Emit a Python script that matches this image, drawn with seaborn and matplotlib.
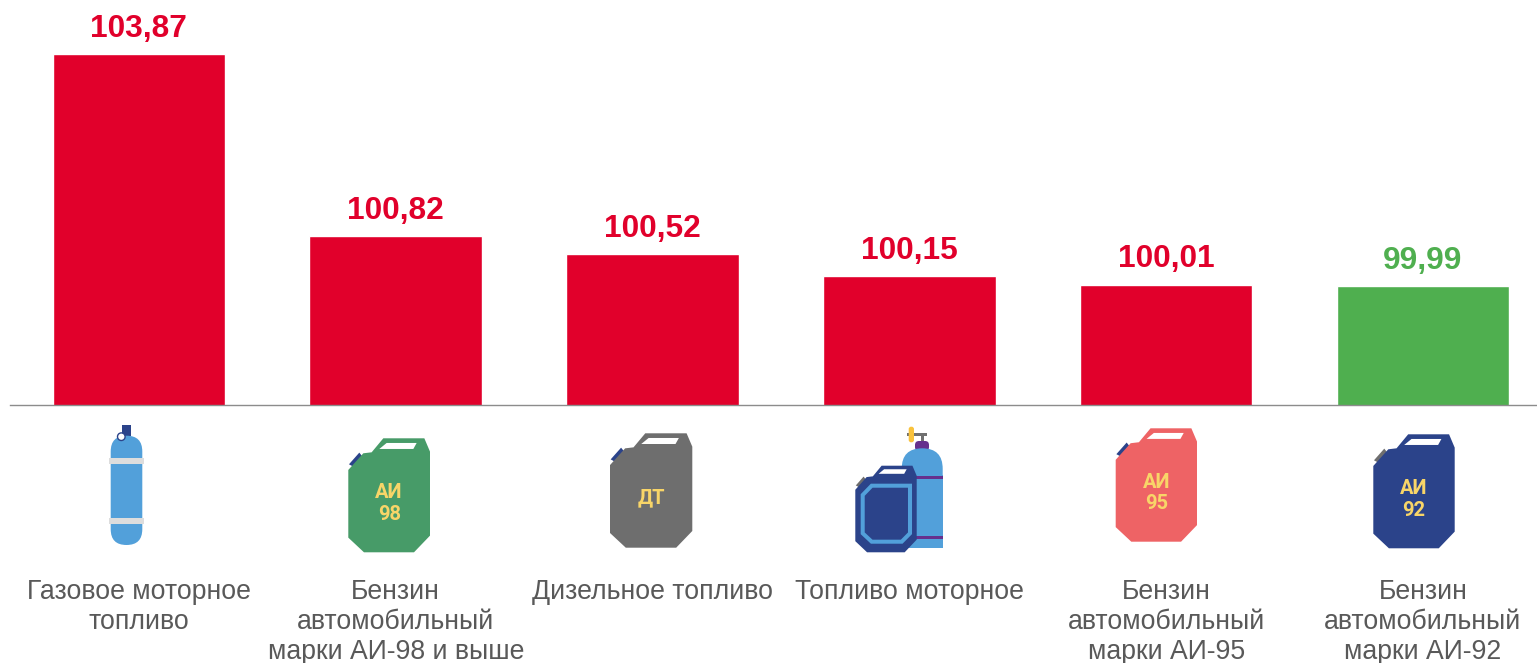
import matplotlib
matplotlib.use("Agg")
import matplotlib.pyplot as plt
from matplotlib.patches import Circle, FancyBboxPatch, Polygon, Rectangle
import pandas as pd
import seaborn as sns

categories = [
    "Газовое моторное\nтопливо",
    "Бензин\nавтомобильный\nмарки АИ-98 и выше",
    "Дизельное топливо",
    "Топливо моторное",
    "Бензин\nавтомобильный\nмарки АИ-95",
    "Бензин\nавтомобильный\nмарки АИ-92",
]
values = [103.87, 100.82, 100.52, 100.15, 100.01, 99.99]

RED = "#E1002B"
GREEN = "#4FAF4F"
bar_colors = [RED, RED, RED, RED, RED, GREEN]

NAVY = "#2B438A"
BLUE = "#52A0DA"
YELLOW = "#F8D568"
GREY = "#6E6E6E"

# canister outline, measured on the green one (245 x 342 box)
CAN_BODY = [(0, 95), (45, 45), (70, 42), (105, 0), (228, 0), (245, 40),
            (245, 292), (197, 342), (47, 342), (0, 298)]
CAN_WINDOW = [(93, 32), (115, 14), (205, 14), (195, 32)]
CAN_CAP = [(2, 78), (33, 43), (45, 58), (15, 85)]


def draw_can(ax, x0, x1, y0, y1, color, cap_color, lines=()):
    sx, sy = (x1 - x0) / 245, (y1 - y0) / 342

    def place(pts):
        return [(x0 + px * sx, y0 + py * sy) for px, py in pts]

    ax.add_patch(Polygon(place(CAN_CAP), color=cap_color, lw=0))
    ax.add_patch(Polygon(place(CAN_BODY), color=color, lw=0))
    ax.add_patch(Polygon(place(CAN_WINDOW), color="white", lw=0))
    cx = (x0 + x1) / 2
    for (text, rel_y) in lines:
        ax.text(cx, y0 + rel_y * sy, text, color=YELLOW, fontsize=14.5, fontweight="bold",
                family="Roboto", ha="center", va="center")


def draw_cylinder(ax):
    ax.add_patch(Rectangle((121.7, 425), 9.3, 11, color=NAVY, lw=0))
    ax.add_patch(FancyBboxPatch((110.7, 435.7), 31.6, 109.3, boxstyle="round,pad=0,rounding_size=15.8",
                                color=BLUE, lw=0))
    for y in (458.3, 518.3):
        ax.add_patch(Rectangle((109, y), 35, 6, color="#DDDDDD", lw=0))
    ax.add_patch(Circle((121.3, 436.7), 3.8, facecolor="white", edgecolor=NAVY, lw=1))


def draw_combo(ax):
    # valve and neck of the tank
    ax.add_patch(Rectangle((907, 433), 20, 3, color="#707070", lw=0))
    ax.add_patch(Rectangle((920.5, 433), 3, 10, color="#707070", lw=0))
    ax.add_patch(FancyBboxPatch((908.7, 426.7), 5.3, 15.6, boxstyle="round,pad=0,rounding_size=2.4",
                                color="#F9C23C", lw=0))
    ax.add_patch(FancyBboxPatch((915, 441), 14, 10, boxstyle="round,pad=0,rounding_size=4",
                                color="#66308D", lw=0))
    # tank
    ax.add_patch(FancyBboxPatch((901.7, 448.3), 41, 60, boxstyle="round,pad=0,rounding_size=20.5",
                                color=BLUE, lw=0))
    ax.add_patch(Rectangle((901.7, 475), 41, 73.3, color=BLUE, lw=0))
    for y in (476.3, 536.3):
        ax.add_patch(Rectangle((915, y), 27.7, 2.2, color="#66308D", lw=0))
    # small canister in front
    draw_can(ax, 855.3, 916.7, 465.7, 552.3, NAVY, GREY)
    frame = [(862.7, 495), (871.7, 485.7), (910, 485.7), (910, 533.3),
             (901.7, 541.7), (871.7, 541.7), (862.7, 533.3)]
    ax.add_patch(Polygon(frame, facecolor=NAVY, edgecolor=BLUE, lw=2.9))


fig = plt.figure(figsize=(15.37, 6.63), dpi=100)
sns.set_style("white")
plt.rcParams["font.family"] = ["Liberation Sans", "DejaVu Sans"]

W, H = 1537, 663
ax = fig.add_axes([10 / W, (H - 405) / H, (W - 10) / W, 405 / H])

df = pd.DataFrame({"category": categories, "value": values})
sns.barplot(data=df, x="category", y="value", hue="category", palette=bar_colors,
            width=0.672, saturation=1, legend=False, ax=ax)

ax.set_xlim(-0.502, 5.444)
ax.set_ylim(98.0003, 104.773)
ax.set_xlabel("")
ax.set_ylabel("")
ax.set_yticks([])
sns.despine(ax=ax, left=True)
ax.spines["bottom"].set_color("#8C8C8C")
ax.spines["bottom"].set_linewidth(1)
ax.tick_params(axis="x", length=0, pad=125, labelsize=19.2, labelcolor="#595959")
for lab in ax.get_xticklabels():
    lab.set_linespacing(1.22)

for i, (v, c) in enumerate(zip(values, bar_colors)):
    ax.annotate(f"{v:.2f}".replace(".", ","), (i, v), xytext=(0, 7.5), textcoords="offset points",
                ha="center", va="bottom", color=c, fontsize=22.8, fontweight="bold", annotation_clip=False)

# icons live on an overlay in image pixels
icons = fig.add_axes([0, 0, 1, 1], zorder=3)
icons.set_xlim(0, W)
icons.set_ylim(H, 0)
icons.axis("off")
icons.patch.set_alpha(0)

draw_cylinder(icons)
draw_can(icons, 348.3, 430, 438.3, 552.3, "#479B68", NAVY, [("АИ", 164), ("98", 228)])
draw_can(icons, 610, 692.3, 433.3, 547.7, GREY, NAVY, [("ДТ", 192)])
draw_combo(icons)
draw_can(icons, 1115.7, 1197, 428.3, 541.7, "#EE6365", NAVY, [("АИ", 164), ("95", 228)])
draw_can(icons, 1373.3, 1454.7, 434.3, 548.3, NAVY, GREY, [("АИ", 164), ("92", 228)])

fig.savefig("out.png", dpi=100)
